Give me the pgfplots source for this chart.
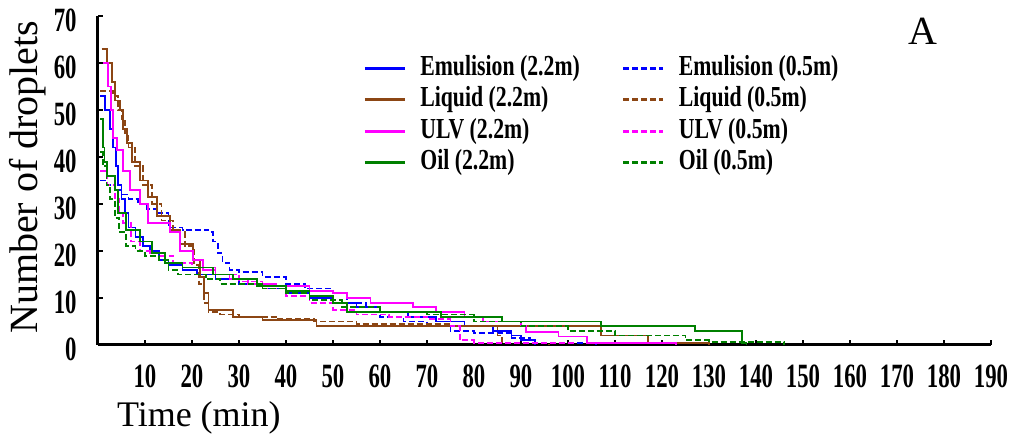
\documentclass[border=0pt]{standalone}
\usepackage{fontspec}
\setmainfont{Liberation Serif}
\newfontfamily\tickfont{Liberation Serif}[FakeStretch=0.67]
\newfontfamily\legfont{Liberation Serif}[FakeStretch=0.75]
\usepackage{pgfplots}
\pgfplotsset{compat=1.18}
\definecolor{cblue}{RGB}{0,0,255}
\definecolor{cbrown}{RGB}{140,70,20}
\definecolor{cmag}{RGB}{255,0,255}
\definecolor{cgreen}{RGB}{0,128,0}
\begin{document}
\begin{tikzpicture}
\begin{axis}[
  name=ax,
  scale only axis,
  width=446.5pt, height=164.5pt,
  xmin=0, xmax=190, ymin=0, ymax=70,
  axis x line*=bottom, axis y line*=left,
  axis line style={-, line width=1.5pt, black},
  xtick={10,20,...,190}, ytick={0,10,...,70},
  tick align=inside, major tick length=2.5pt,
  tick style={black, line width=0.6pt},
  /pgf/number format/assume math mode=true,
  ticklabel style={font=\tickfont\bfseries\fontsize{17}{17}\selectfont},
  xticklabel style={anchor=north, inner sep=0pt, yshift=-9.5pt},
  yticklabel style={anchor=east, inner sep=0pt, xshift=-10.5pt, yshift=-2pt},
  xlabel={Time (min)},
  ylabel={Number of droplets},
  xlabel style={at={(rel axis cs:0.113,-0.172)}, anchor=north, inner sep=0pt, font=\fontsize{18}{18}\selectfont},
  ylabel style={at={(rel axis cs:-0.0784,0.51)}, anchor=center, font=\fontsize{20}{20}\selectfont},
  legend columns=2,
  legend cell align=left,
  legend image code/.code={\draw[#1, line width=1.5pt] (0pt,0pt) -- (20pt,0pt);},
  legend style={at={(rel axis cs:0.29,0.9)}, anchor=north west, draw=none, fill=none,
    font=\legfont\bfseries\fontsize{14.5}{14.5}\selectfont,
    nodes={inner sep=1pt, text height=10pt, text depth=3pt},
    row sep=0.75pt,
    /tikz/every odd column/.append style={column sep=6pt},
    /tikz/every even column/.append style={column sep=20pt}},
  every axis plot/.append style={const plot, line width=0.9pt},
]
\addplot[cblue] coordinates {(0.5,53) (1.5,50) (2.5,46) (3.2,42) (3.8,38) (4.3,34) (5,31) (5.8,28) (6.5,25) (8,23) (9.5,21) (11,20) (13,18) (15,17) (18,16) (21,15) (25,14) (30,13) (35,12) (40,11) (45,10) (50,9) (55,8) (60,7) (66,6) (72,5) (78,4) (84,3) (88,2) (90,1) (93,0)};
\addlegendentry{Emulision (2.2m)}
\addplot[cblue, dash pattern=on 3pt off 1.5pt] coordinates {(0.5,35) (2,34) (3.5,33) (5,32) (6.5,31) (8.5,30) (10.5,29) (12.5,28) (15,25) (18,24.5) (23.5,24) (24.5,22) (25.5,19.5) (26.5,17.5) (28,16) (30,15.5) (35,14.5) (40,13) (44,12) (50,11) (53,9) (57,8) (60,6) (65,5) (70,4) (75,3) (80,2.5) (88,1.5) (92,0.5) (105,0.5) (106,0)};
\addlegendentry{Emulision (0.5m)}
\addplot[cbrown] coordinates {(0.8,63) (2,60) (3,56) (3.6,52) (4.7,50) (5.4,46) (6.1,43) (7.2,39) (8.9,35) (10.7,31.5) (12.5,27.5) (15.3,24.5) (17.4,21.5) (20.3,18) (21.7,14.5) (22.5,11) (23.5,7.5) (28.8,6) (35,5.3) (46.5,4) (107,2) (117,0.5) (130,0)};
\addlegendentry{Liquid (2.2m)}
\addplot[cbrown, dash pattern=on 3pt off 1.5pt] coordinates {(0.5,54) (3.2,53) (4.2,50) (5,48) (5.8,45) (6.5,42) (7.8,38) (9.5,34) (11.5,30) (13.5,26.5) (16,24) (18.5,21) (20.5,17) (21.5,13) (22.5,9) (23.5,7) (26,6.5) (30,6) (38,5.5) (46,5) (55,4.5) (75,4) (85,2) (86,0.3) (95,0.3) (96,0)};
\addlegendentry{Liquid (0.5m)}
\addplot[cmag] coordinates {(1,60) (2.2,55) (2.8,50) (3.2,44) (4,41.5) (5.4,37) (6.8,33) (8.9,30) (10.7,26) (15.3,24) (17.4,20) (20.3,18) (22.4,16) (25,15) (28,14) (32,13) (38,12.5) (45,11.5) (50,11) (53,10) (58,9) (67,8) (72,7) (78,6) (82,5) (90,4) (91,2.8) (98,1.8) (104,0.5) (123,0)};
\addlegendentry{ULV (2.2m)}
\addplot[cmag, dash pattern=on 3pt off 1.5pt] coordinates {(0.5,37) (2,34) (3.6,31) (4.5,28) (5.4,26) (7,22) (8.9,20) (11,19.5) (13,19) (16,17.5) (20,16.5) (25,15) (30,13.5) (35,12) (40,10.5) (45,9) (50,7.5) (55,6.5) (62,6) (70,5.5) (75,4) (77,1) (80,0.5) (100,0.5) (101,0)};
\addlegendentry{ULV (0.5m)}
\addplot[cgreen] coordinates {(0.5,48) (1,42) (1.4,39) (2,36) (3.6,33) (4.3,28) (6,24.5) (8.9,22) (11.5,19.5) (14.3,17.5) (18,16.5) (24.5,15) (28.8,14) (33.8,12.5) (40,11.5) (45,10.5) (50,9) (53,7) (73,6) (86,5) (107,4) (127,3) (137,0.5) (138,0)};
\addlegendentry{Oil (2.2m)}
\addplot[cgreen, dash pattern=on 3pt off 1.5pt] coordinates {(0.5,41) (1,38) (1.8,34) (2.6,31) (3.6,27) (4.5,24) (6,21) (8,20) (10,19) (13,18) (15,16) (17,15) (23,14) (26,13) (35,12) (40,11) (45,9.5) (52,8) (60,7) (70,6.5) (80,5) (90,4) (100,3) (110,2) (125,1) (130,0.7) (145,0.7) (146,0)};
\addlegendentry{Oil (0.5m)}
\node[font=\fontsize{20}{20}\selectfont] at (axis cs:175.5,66.8) {A};
\coordinate (bbsw) at (rel axis cs:-0.1097,-0.2827);
\coordinate (bbne) at (rel axis cs:1.0392,1.0486);
\end{axis}
\pgfresetboundingbox
\useasboundingbox (bbsw) rectangle (bbne);
\end{tikzpicture}
\end{document}
